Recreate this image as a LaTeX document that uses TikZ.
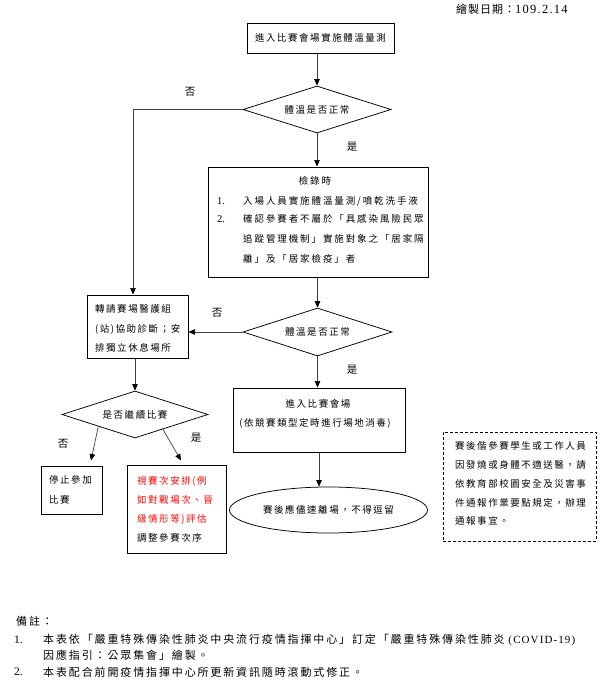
\documentclass[tikz,border=0pt]{standalone}
\usepackage{fontspec}
\setmainfont{Noto Sans CJK TC}
\newfontfamily\dg[LetterSpace=16]{Noto Sans CJK TC}
\newfontfamily\dgw[LetterSpace=20]{Noto Sans CJK TC}
\newfontfamily\dgl[LetterSpace=10]{Noto Sans CJK TC}
\newfontfamily\fn[LetterSpace=17]{Noto Sans CJK TC}
\newfontfamily\dt[LetterSpace=9]{Noto Sans CJK TC}
\newfontfamily\lat{Liberation Serif}
\newfontfamily\latw[LetterSpace=10]{Liberation Serif}
\usetikzlibrary{shapes.geometric,arrows.meta,calc}
\begin{document}
\begin{tikzpicture}[x=1pt,y=-1pt,
  box/.style={draw=black, line width=1pt, inner sep=0pt},
  dia/.style={draw=black, diamond, aspect=3, line width=0.75pt, inner sep=0pt, font=\dg\fontsize{9.5}{11}\selectfont},
  arr/.style={draw=black!75, line width=0.7pt, -{Triangle[length=6.5pt,width=5.5pt,color=black]}},
  txt/.style={inner sep=0pt, font=\dg\fontsize{9.5}{11}\selectfont},
  txtw/.style={inner sep=0pt, font=\dgw\fontsize{9.5}{11}\selectfont},
  lbl/.style={inner sep=0pt, font=\dgl\fontsize{10.5}{12}\selectfont},
  fnt/.style={inner sep=0pt, anchor=west, font=\fn\fontsize{11}{12}\selectfont},
  num/.style={inner sep=0pt, anchor=west, font=\lat\fontsize{11.5}{12}\selectfont},
]
\fill[white] (0,0) rectangle (603,688);
\useasboundingbox (0,0) rectangle (603,688);

% date
\node[inner sep=0pt, anchor=west, font=\dt\fontsize{11}{12}\selectfont] (date) at (456,9) {繪製日期：{\latw\fontsize{12.5}{12}\selectfont 109.2.14}};

% main flow
\node[box, minimum width=147pt, minimum height=30pt, font=\dg\fontsize{9.5}{11}\selectfont] (b1) at (320.5,38) {進入比賽會場實施體溫量測};
\node[dia, minimum width=148pt, minimum height=47pt] (d1) at (317,109.5) {體溫是否正常};
\node[box, minimum width=220pt, minimum height=110pt] (chk) at (318,222) {};
\node[txtw] (chk0) at (315,181) {檢錄時};
\node[num, font=\lat\fontsize{10.5}{12}\selectfont] (chk1n) at (217,201) {1.};
\node[txtw, anchor=west] (chk1) at (243,201) {入場人員實施體溫量測/噴乾洗手液};
\node[num, font=\lat\fontsize{10.5}{12}\selectfont] (chk2n) at (217,219) {2.};
\node[txtw, anchor=west] (chk2) at (243,219) {確認參賽者不屬於「具感染風險民眾};
\node[txtw, anchor=west] (chk3) at (243,239) {追蹤管理機制」實施對象之「居家隔};
\node[txtw, anchor=west] (chk4) at (243,259) {離」及「居家檢疫」者};

\node[box, minimum width=101pt, minimum height=63pt] (lbox) at (137.5,326.5) {};
\node[txt, anchor=west] (lb1) at (95,309) {轉請賽場醫護組};
\node[txt, anchor=west] (lb2) at (95,329) {(站)協助診斷；安};
\node[txt, anchor=west] (lb3) at (95,348) {排獨立休息場所};

\node[dia, minimum width=149pt, minimum height=48pt] (d2) at (317.5,332) {體溫是否正常};

\node[box, minimum width=172pt, minimum height=64pt] (ent) at (319,420) {};
\node[txt] (ent1) at (318,404) {進入比賽會場};
\node[txt] (ent2) at (315,423) {(依競賽類型定時進行場地消毒)};

\node[draw=black, ellipse, line width=0.75pt, minimum width=198pt, minimum height=46pt, inner sep=0pt, font=\dg\fontsize{9.5}{11}\selectfont] (el) at (328.5,510) {賽後應儘速離場，不得逗留};

\node[dia, minimum width=146pt, minimum height=47pt] (d3) at (135,414.5) {是否繼續比賽};

\node[box, minimum width=61pt, minimum height=48pt] (stop) at (71.5,490) {};
\node[txt, anchor=west] (st1) at (49,480) {停止參加};
\node[txt, anchor=west] (st2) at (49,500) {比賽};

\node[box, minimum width=99pt, minimum height=88pt] (red) at (176.5,509) {};
\node[txt, anchor=west, text=red] (rd1) at (137,481) {視賽次安排(例};
\node[txt, anchor=west, text=red] (rd2) at (137,500) {如對戰場次、晉};
\node[txt, anchor=west, text=red] (rd3) at (137,519) {級情形等)評估};
\node[txt, anchor=west] (rd4) at (137,538) {調整參賽次序};

\node[draw=black, line width=0.9pt, dash pattern=on 3pt off 2pt, minimum width=153pt, minimum height=109pt, inner sep=0pt] (dash) at (519.5,486.5) {};
\node[txt, anchor=west] (ds1) at (455,446) {賽後偕參賽學生或工作人員};
\node[txt, anchor=west] (ds2) at (455,465) {因發燒或身體不適送醫，請};
\node[txt, anchor=west] (ds3) at (455,484) {依教育部校園安全及災害事};
\node[txt, anchor=west] (ds4) at (455,503) {件通報作業要點規定，辦理};
\node[txt, anchor=west] (ds5) at (455,521) {通報事宜。};

% labels
\node[lbl] (no1) at (190,92) {否};
\node[lbl] (yes1) at (352,147) {是};
\node[lbl] (no2) at (217,313) {否};
\node[lbl] (yes2) at (352,370) {是};
\node[lbl] (no3) at (63,444) {否};
\node[lbl] (yes3) at (196,438) {是};

% connectors
\draw[arr] (d1.north |- b1.south) -- (d1.north);
\draw[arr] (d1.west) -| ([xshift=-4.5pt]lbox.north);
\draw[arr] (d1.south) -- (d1.south |- chk.north);
\draw[arr] (d2.north |- chk.south) -- (d2.north);
\draw[arr] (d2.west) -- (d2.west -| lbox.east);
\draw[arr] (d2.south) -- (d2.south |- ent.north);
\draw[arr] (ent.south) -- (ent.south |- el.north);
\draw[arr] (d3.north |- lbox.south) -- (d3.north);
\draw[arr] ($(d3.west)!0.5!(d3.south)$) -- ([xshift=19.5pt,yshift=5pt]stop.north);
\draw[arr] ($(d3.south)!0.38!(d3.east)$) -- ([xshift=4.5pt,yshift=4pt]red.north);

% footnotes
\node[fnt] (fh) at (16,621) {備註：};
\node[num] (fn1n) at (14,640) {1.};
\node[fnt] (fn1) at (43,640) {本表依「嚴重特殊傳染性肺炎中央流行疫情指揮中心」訂定「嚴重特殊傳染性肺炎{\latw\fontsize{11}{12}\selectfont\ (COVID-19)}};
\node[fnt] (fn1b) at (43,655) {因應指引：公眾集會」繪製。};
\node[num] (fn2n) at (14,672) {2.};
\node[fnt] (fn2) at (43,672) {本表配合前開疫情指揮中心所更新資訊隨時滾動式修正。};
\end{tikzpicture}
\end{document}
